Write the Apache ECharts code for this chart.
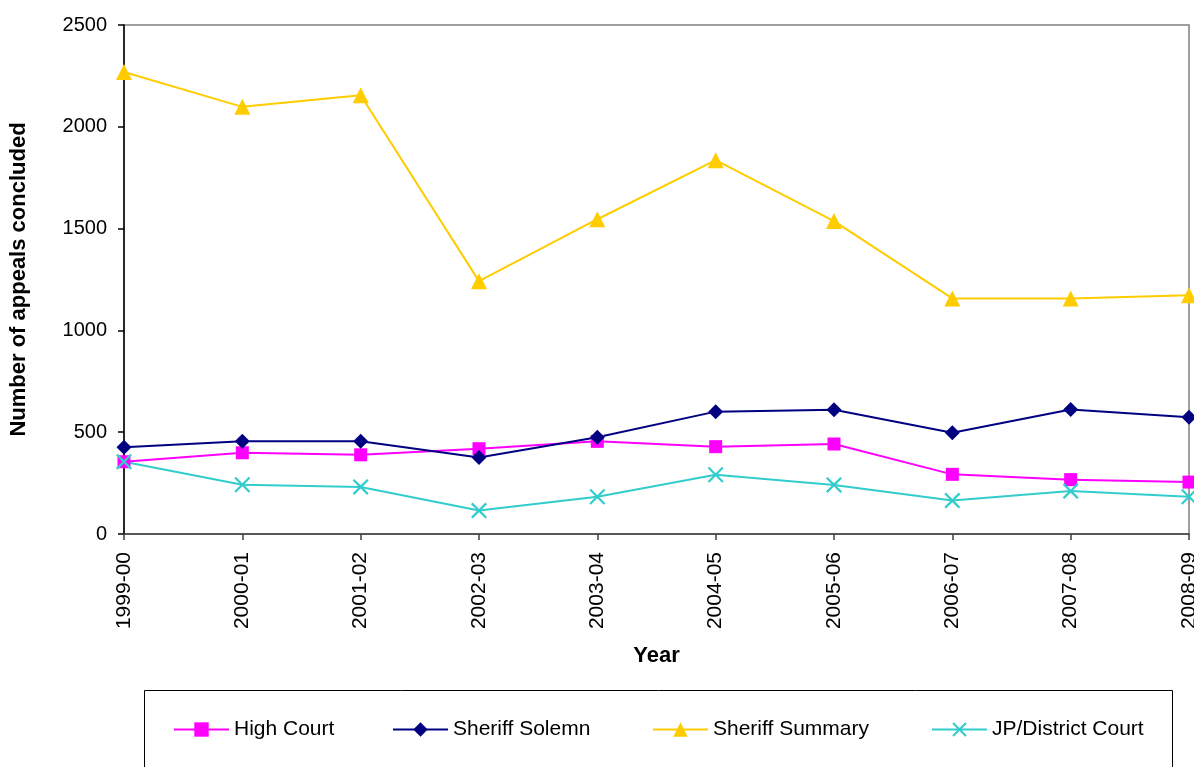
<!DOCTYPE html>
<html>
<head>
<meta charset="utf-8">
<script src="https://cdn.jsdelivr.net/npm/echarts@6/dist/echarts.min.js"></script>
<style>
  html, body { margin: 0; padding: 0; background: #fff; }
  #chart { width: 1194px; height: 767px; }
</style>
</head>
<body>
<div id="chart"></div>
<script>
// Financial years
const years = ['1999-00', '2000-01', '2001-02', '2002-03', '2003-04',
               '2004-05', '2005-06', '2006-07', '2007-08', '2008-09'];

// Appeals concluded per court
const highCourt       = [355, 399, 389, 419, 455, 429, 442, 293, 267, 255];
const sheriffSolemn   = [426, 455, 455, 376, 475, 601, 610, 497, 612, 573];
const sheriffSummary  = [2269, 2098, 2155, 1242, 1546, 1836, 1537, 1157, 1157, 1173];
const jpDistrictCourt = [355, 242, 231, 115, 183, 291, 241, 164, 211, 183];

// Value axis ticks
const yTicks = [0, 500, 1000, 1500, 2000, 2500];

// Series names, in legend order
const seriesNames = ['High Court', 'Sheriff Solemn', 'Sheriff Summary', 'JP/District Court'];

const FONT = "'Liberation Sans', Arial, sans-serif";
const crossPath = 'path://M0,1 L1,0 L5,4 L9,0 L10,1 L6,5 L10,9 L9,10 L5,6 L1,10 L0,9 L4,5 Z';

function lineSeries(name, data, color, symbol, size) {
  return {
    name: name,
    type: 'line',
    data: data,
    symbol: symbol,
    symbolSize: size,
    showAllSymbol: true,
    lineStyle: { color: color, width: 2 },
    itemStyle: { color: color, borderWidth: 0 },
    emphasis: { disabled: true },
    animation: false,
    clip: false
  };
}

// One legend per entry so each sits at its own place along the key box
const legendLefts = [168, 387, 647, 926];
const legends = seriesNames.map(function (name, i) {
  return {
    left: legendLefts[i],
    top: 714,
    itemWidth: 55,
    itemHeight: 18,
    textStyle: { fontFamily: FONT, fontSize: 21, color: '#000' },
    data: [name]
  };
});

const chart = echarts.init(document.getElementById('chart'), null, { renderer: 'canvas' });

chart.setOption({
  backgroundColor: '#ffffff',
  textStyle: { fontFamily: FONT },
  grid: {
    left: 124, right: 5, top: 25, bottom: 233,
    outerBoundsMode: 'none',
    containLabel: false,
    show: true, borderColor: '#808080', borderWidth: 1.5, backgroundColor: 'transparent'
  },
  xAxis: {
    type: 'category',
    data: years,
    boundaryGap: false,
    name: 'Year',
    nameLocation: 'middle',
    nameGap: 111,
    nameTextStyle: { fontFamily: FONT, fontSize: 22, fontWeight: 'bold', color: '#000' },
    axisLine: { lineStyle: { color: '#404040', width: 1.5 } },
    axisTick: { show: true, length: 6, inside: false, lineStyle: { color: '#404040', width: 1.5 } },
    axisLabel: { rotate: 90, margin: 18, fontFamily: FONT, fontSize: 21, color: '#000', interval: 0 },
    splitLine: { show: false }
  },
  yAxis: {
    type: 'value',
    min: yTicks[0],
    max: yTicks[yTicks.length - 1],
    interval: 500,
    name: 'Number of appeals concluded',
    nameLocation: 'middle',
    nameGap: 94,
    nameTextStyle: { fontFamily: FONT, fontSize: 22, fontWeight: 'bold', color: '#000' },
    axisLine: { show: true, lineStyle: { color: '#000', width: 1.5 } },
    axisTick: { show: true, length: 6, lineStyle: { color: '#000', width: 1.5 } },
    axisLabel: {
      margin: 17, fontFamily: FONT, fontSize: 20, color: '#000',
      formatter: function (v) { return String(v); }
    },
    splitLine: { show: false }
  },
  legend: legends,
  graphic: [{
    type: 'rect',
    left: 142, top: 688,
    shape: { width: 1028, height: 100 },
    style: { fill: 'none', stroke: '#000', lineWidth: 1 },
    z: -1
  }],
  series: [
    lineSeries(seriesNames[0], highCourt, '#FF00FF', 'rect', 13),
    lineSeries(seriesNames[1], sheriffSolemn, '#000080', 'diamond', 15),
    lineSeries(seriesNames[2], sheriffSummary, '#FFCC00', 'triangle', 16),
    lineSeries(seriesNames[3], jpDistrictCourt, '#33CCCC', crossPath, 16)
  ]
});
</script>
</body>
</html>
